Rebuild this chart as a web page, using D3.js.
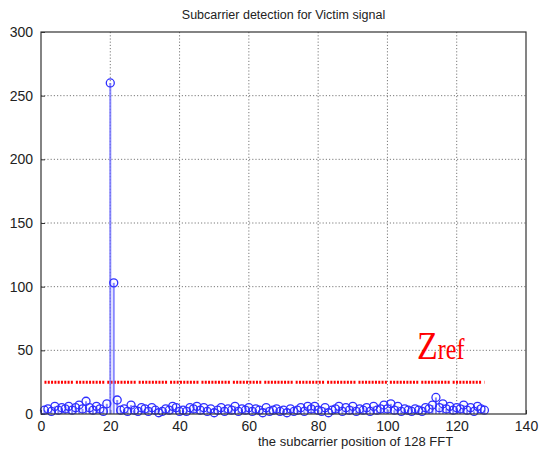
<!DOCTYPE html>
<html>
<head>
<meta charset="utf-8">
<script src="https://cdn.jsdelivr.net/npm/d3@7"></script>
<style>
  html, body { margin: 0; padding: 0; background: #fff; }
  svg { display: block; }
</style>
</head>
<body>
<svg id="chart" width="552" height="453"></svg>
<script>
// Subcarrier index (1..128) of the 128-point FFT
const positions = [
  1,2,3,4,5,6,7,8,9,10,11,12,13,14,15,16,17,18,19,20,
  21,22,23,24,25,26,27,28,29,30,31,32,33,34,35,36,37,38,39,40,
  41,42,43,44,45,46,47,48,49,50,51,52,53,54,55,56,57,58,59,60,
  61,62,63,64,65,66,67,68,69,70,71,72,73,74,75,76,77,78,79,80,
  81,82,83,84,85,86,87,88,89,90,91,92,93,94,95,96,97,98,99,100,
  101,102,103,104,105,106,107,108,109,110,111,112,113,114,115,116,117,118,119,120,
  121,122,123,124,125,126,127,128
];
// Detection magnitude at each subcarrier
const magnitudes = [
  3,4,2,6,3,5,4,6,3,5,7,4,10,5,3,6,4,2,8,260,
  103,11,3,4,2,7,3,2,5,4,2,5,3,1,2,4,3,6,5,2,
  3,2,5,4,6,3,5,2,4,1,3,5,2,4,3,6,2,4,3,5,
  2,4,3,1,5,2,3,4,2,3,1,4,2,3,5,2,6,4,6,3,
  2,5,1,3,4,6,2,5,3,6,2,4,3,5,2,6,3,4,7,4,
  8,3,6,2,4,3,2,4,3,2,5,4,7,13,5,8,4,6,3,5,
  4,7,3,5,2,6,4,3
];
// Reference threshold Z_ref, spanning the subcarrier range
const thresholdStart = 1;
const thresholdEnd = 128;
const thresholdValue = 25;

const xTicks = [0, 20, 40, 60, 80, 100, 120, 140];
const yTicks = [0, 50, 100, 150, 200, 250, 300];

const titleText = "Subcarrier detection for Victim signal";
const xLabelText = "the subcarrier position of 128 FFT";

const svg = d3.select("#chart");
const plotLeft = 41, plotRight = 526, plotTop = 32, plotBottom = 414;

const x = d3.scaleLinear().domain([0, 140]).range([plotLeft, plotRight]);
const y = d3.scaleLinear().domain([0, 300]).range([plotBottom, plotTop]);

const font = "'Liberation Sans', Arial, Helvetica, sans-serif";

// dotted grid
const grid = svg.append("g");
grid.selectAll("line.gx").data(xTicks.filter(d => d > 0 && d < 140)).join("line")
  .attr("x1", d => x(d)).attr("x2", d => x(d))
  .attr("y1", plotTop).attr("y2", plotBottom)
  .attr("stroke", "#7a7a7a").attr("stroke-width", 1)
  .attr("stroke-dasharray", "1.2,2");
grid.selectAll("line.gy").data(yTicks.filter(d => d > 0 && d < 300)).join("line")
  .attr("x1", plotLeft).attr("x2", plotRight)
  .attr("y1", d => y(d)).attr("y2", d => y(d))
  .attr("stroke", "#7a7a7a").attr("stroke-width", 1)
  .attr("stroke-dasharray", "1.2,2");

// axes
const xAxis = d3.axisBottom(x).tickValues(xTicks).tickSize(-4).tickPadding(7);
const yAxis = d3.axisLeft(y).tickValues(yTicks).tickSize(-4).tickPadding(8);

const gx = svg.append("g").attr("transform", `translate(0,${plotBottom})`).call(xAxis);
const gy = svg.append("g").attr("transform", `translate(${plotLeft},0)`).call(yAxis);
[gx, gy].forEach(g => {
  g.select(".domain").remove();
  g.selectAll(".tick line").attr("stroke", "#333");
  g.selectAll(".tick text").attr("fill", "#222")
    .style("font-family", font).style("font-size", "14px");
});

// Z_ref threshold: red dotted run
const redDash = [];
for (let i = 0; i < 8; i++) { redDash.push(2, 1.3); }
redDash.push(2, 3);
svg.append("line")
  .attr("x1", x(thresholdStart)).attr("x2", x(thresholdEnd))
  .attr("y1", y(thresholdValue)).attr("y2", y(thresholdValue))
  .attr("stroke", "#ff0000").attr("stroke-width", 3)
  .attr("stroke-dasharray", redDash.join(","));

// stems
const pts = positions.map((p, i) => ({ p, v: magnitudes[i] }));
svg.append("g").selectAll("line").data(pts).join("line")
  .attr("x1", d => x(d.p)).attr("x2", d => x(d.p))
  .attr("y1", y(0)).attr("y2", d => y(d.v))
  .attr("stroke", "#6a6aff").attr("stroke-width", 2).attr("stroke-opacity", 0.8);
svg.append("g").selectAll("circle").data(pts).join("circle")
  .attr("cx", d => x(d.p)).attr("cy", d => y(d.v)).attr("r", 4)
  .attr("fill", "none").attr("stroke", "#2f2fff").attr("stroke-width", 1.3);

// frame
svg.append("rect")
  .attr("x", plotLeft).attr("y", plotTop)
  .attr("width", plotRight - plotLeft).attr("height", plotBottom - plotTop)
  .attr("fill", "none").attr("stroke", "#333").attr("stroke-width", 1.2);

// title
svg.append("text")
  .attr("x", (plotLeft + plotRight) / 2).attr("y", 19)
  .attr("text-anchor", "middle")
  .style("font-family", font).style("font-size", "12.5px").attr("fill", "#222")
  .text(titleText);

// x label
svg.append("text")
  .attr("x", 258).attr("y", 446)
  .style("font-family", font).style("font-size", "13px").attr("fill", "#222")
  .text(xLabelText);

// Z_ref annotation
const zref = svg.append("text")
  .attr("transform", "translate(417,359) scale(1,1.2)")
  .style("font-family", "'Liberation Serif', 'Times New Roman', serif")
  .attr("fill", "#ff0000");
zref.append("tspan").style("font-size", "34px").text("Z");
zref.append("tspan").style("font-size", "24px").text("ref");
</script>
</body>
</html>
